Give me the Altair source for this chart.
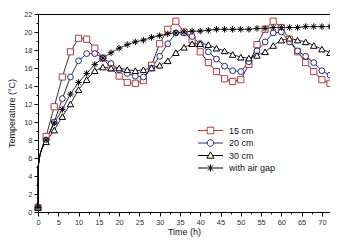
import altair as alt
import pandas as pd

# ---- data ----
series_names = ["15 cm", "20 cm", "30 cm", "with air gap"]

early_hours = [0, 0.02, 0.5, 1]
early_temp = [0.5, 5.0, 6.4, 7.1]

hours = [2, 4, 6, 8, 10, 12, 14, 16, 18, 20, 22, 24, 26, 28, 30, 32, 34, 36,
         38, 40, 42, 44, 46, 48, 50, 52, 54, 56, 58, 60, 62, 64, 66, 68, 70, 72]

t15 = [8.4, 11.7, 15.0, 17.8, 19.3, 19.2, 18.2, 17.1, 16.0, 15.1, 14.4, 14.3,
       14.6, 16.3, 18.7, 20.3, 21.2, 20.0, 19.1, 17.8, 16.6, 15.6, 14.8, 14.5,
       14.7, 16.4, 18.6, 20.3, 21.2, 20.5, 19.2, 17.8, 16.6, 15.6, 14.7, 14.3]
t20 = [8.0, 10.0, 12.6, 15.0, 16.8, 17.6, 17.6, 17.1, 16.5, 15.8, 15.4, 15.1,
       15.0, 16.0, 17.3, 18.7, 19.9, 19.9, 19.5, 18.7, 17.8, 17.0, 16.2, 15.7,
       15.6, 16.7, 17.9, 18.9, 19.9, 20.0, 18.9, 17.9, 17.3, 16.6, 15.7, 15.2]
t30 = [7.8, 9.1, 10.6, 12.0, 13.6, 14.7, 15.7, 16.1, 16.0, 16.0, 15.8, 15.7,
       15.8, 16.0, 16.3, 16.8, 17.7, 18.3, 18.7, 18.7, 18.6, 18.2, 17.9, 17.5,
       17.2, 17.1, 17.4, 17.8, 18.5, 19.1, 19.3, 19.1, 18.9, 18.5, 18.1, 17.7]
tgap = [8.0, 9.9, 11.4, 13.1, 14.4, 15.4, 16.4, 17.1, 17.7, 18.2, 18.6, 18.9,
        19.1, 19.4, 19.6, 19.8, 19.9, 20.0, 20.1, 20.1, 20.2, 20.3, 20.3, 20.3,
        20.3, 20.3, 20.4, 20.4, 20.5, 20.5, 20.5, 20.5, 20.6, 20.6, 20.6, 20.6]

x_tick_values = [i * 2.5 for i in range(29)]
y_tick_values = list(range(23))

# ---- styles ----
marker_colors = ["#b83c3c", "#1f2a8a", "#000000", "#000000"]
ASTER = "M-1,0H1M0,-1V1M-0.7,-0.7L0.7,0.7M-0.7,0.7L0.7,-0.7"
marker_shapes = ["square", "circle", "triangle-up", ASTER]
marker_sizes = [38, 34, 42, 42]
legend_paths = [
    "M-2.1,0H-0.55M0.55,0H2.1M-0.55,-0.55H0.55V0.55H-0.55Z",
    "M-2.1,0H-0.55M0.55,0H2.1M-0.55,0A0.55,0.55 0 1,0 0.55,0A0.55,0.55 0 1,0 -0.55,0Z",
    "M-2.1,0H-0.34M0.34,0H2.1M0,-0.6L0.6,0.45H-0.6Z",
    "M-2.1,0H2.1M0,-0.6V0.6M-0.45,-0.45L0.45,0.45M-0.45,0.45L0.45,-0.45",
]

rows = []
for name, vals in zip(series_names, [t15, t20, t30, tgap]):
    for h, t in zip(early_hours + hours, early_temp + vals):
        rows.append({"series": name, "hour": h, "temp": t})
df = pd.DataFrame(rows)

FONT = "Liberation Sans"

x_enc = alt.X(
    "hour:Q",
    scale=alt.Scale(domain=[0, 72], nice=False, zero=False),
    axis=alt.Axis(
        title="Time (h)", values=x_tick_values,
        labelExpr="datum.value % 5 === 0 ? datum.label : ''",
        tickSize={"condition": {"test": "datum.value % 5 === 0", "value": 4}, "value": 2},
        grid=False, labelFontSize=7.5, titleFontSize=9, labelPadding=2,
        titlePadding=2, labelColor="#333", titleColor="#111",
        domainColor="black", tickColor="black", labelFont=FONT, titleFont=FONT,
        titleFontWeight="normal", labelFlush=False,
    ),
)
y_enc = alt.Y(
    "temp:Q",
    scale=alt.Scale(domain=[0, 22], nice=False),
    axis=alt.Axis(
        title="Temperature (°C)", values=y_tick_values,
        labelExpr="datum.value % 2 === 0 ? datum.label : ''",
        tickSize={"condition": {"test": "datum.value % 2 === 0", "value": 4}, "value": 2},
        grid=False, labelFontSize=7.5, titleFontSize=9, labelPadding=2,
        titlePadding=7, labelColor="#333", titleColor="#111",
        domainColor="black", tickColor="black", labelFont=FONT, titleFont=FONT,
        titleFontWeight="normal", labelFlush=False,
    ),
)

base = alt.Chart(df)

lines = base.mark_line(color="black", strokeWidth=0.8).encode(
    x=x_enc, y=y_enc, detail="series:N", order="hour:Q"
)

layers = [lines]
for name, shp, col, sz in zip(series_names, marker_shapes, marker_colors, marker_sizes):
    layers.append(
        base.transform_filter(
            f"datum.series === '{name}' && datum.hour % 2 === 0"
        ).mark_point(
            shape=shp, stroke=col, fill="white", filled=True, size=sz,
            strokeWidth=1, opacity=1
        ).encode(x=x_enc, y=y_enc)
    )

legend_layer = base.mark_point(opacity=0).encode(
    x=x_enc, y=y_enc,
    shape=alt.Shape("series:N", scale=alt.Scale(domain=series_names, range=legend_paths),
                    legend=alt.Legend(title=None)),
    stroke=alt.Stroke("series:N", scale=alt.Scale(domain=series_names, range=marker_colors),
                      legend=alt.Legend(title=None)),
)
layers.append(legend_layer)

chart = alt.layer(*layers).properties(
    width=292, height=198,
    autosize="none",
    padding={"left": 30, "top": 6, "right": 0, "bottom": 25},
).configure_view(
    stroke="black", strokeWidth=1
).configure_legend(
    orient="none", legendX=166, legendY=110, symbolSize=144,
    symbolStrokeWidth=1, symbolOpacity=1, labelFontSize=9, labelFont=FONT,
    labelColor="#111", labelOffset=12, rowPadding=0.5, padding=0,
    symbolFillColor="white",
)

chart.save("out.html", embed_options={"renderer": "svg", "actions": False})
